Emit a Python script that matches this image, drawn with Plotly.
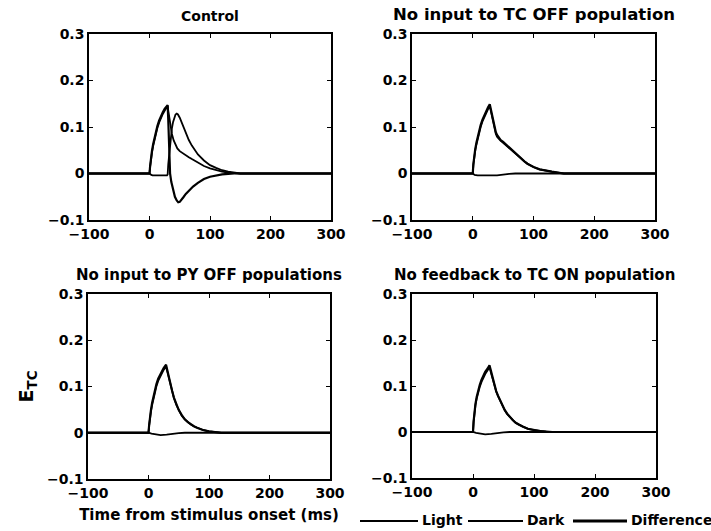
import plotly.graph_objects as go

# ---------------- data ----------------
panel_titles = ["Control", "No input to TC OFF population",
                "No input to PY OFF populations", "No feedback to TC ON population"]
series_names = ["Light", "Dark", "Difference"]
x_ticks = [-100, 0, 100, 200, 300]
y_ticks = [-0.1, 0, 0.1, 0.2, 0.3]
y_ticktext = ["−0.1", "0", "0.1", "0.2", "0.3"]

# Control
ctrl_light_t = [-100, 0, 1, 2, 4, 6, 8, 10, 13, 16, 19, 22, 25, 28, 30, 31, 33, 35, 37, 40, 43, 46, 50, 55, 60, 65, 70, 75, 80, 90, 100, 110, 120, 130, 140, 150, 300]
ctrl_light_y = [0, 0, 0.014, 0.026, 0.044, 0.059, 0.072, 0.084, 0.098, 0.11, 0.12, 0.128, 0.135, 0.141, 0.145, 0.135, 0.114, 0.097, 0.085, 0.071, 0.061, 0.054, 0.048, 0.043, 0.039, 0.035, 0.031, 0.027, 0.023, 0.016, 0.011, 0.007, 0.004, 0.002, 0.001, 0, 0]
ctrl_dark_t = [-100, 0, 3, 5, 29, 30, 31, 33, 35, 37, 39, 41, 43, 45, 47, 50, 53, 56, 60, 65, 70, 75, 80, 90, 100, 110, 120, 130, 140, 150, 300]
ctrl_dark_y = [0, 0, -0.003, -0.004, -0.004, -0.002, 0.02, 0.05, 0.077, 0.097, 0.111, 0.121, 0.127, 0.129, 0.127, 0.12, 0.11, 0.1, 0.087, 0.072, 0.06, 0.05, 0.041, 0.028, 0.018, 0.012, 0.007, 0.004, 0.002, 0, 0]
ctrl_diff_t = [-100, 0, 1, 2, 4, 6, 8, 10, 13, 16, 19, 22, 25, 28, 30, 31, 32, 34, 36, 38, 40, 42, 45, 47.5, 50, 53, 56, 60, 65, 72, 80, 90, 100, 110, 120, 130, 140, 300]
ctrl_diff_y = [0, 0, 0.016, 0.029, 0.048, 0.063, 0.076, 0.088, 0.102, 0.114, 0.124, 0.132, 0.139, 0.144, 0.147, 0.115, 0.08, 0.0, -0.018, -0.03, -0.041, -0.05, -0.058, -0.062, -0.061, -0.057, -0.051, -0.044, -0.037, -0.028, -0.02, -0.012, -0.007, -0.004, -0.002, -0.001, 0, 0]

# No input to TC OFF population
tcoff_light_t = [-100, 0, 1, 2, 4, 6, 8, 10, 13, 16, 19, 22, 25, 28, 30, 32, 34, 36, 38, 40, 43, 46, 50, 55, 60, 65, 70, 75, 80, 85, 90, 95, 100, 110, 120, 130, 140, 150, 300]
tcoff_light_y = [0, 0, 0.018, 0.03, 0.048, 0.062, 0.074, 0.085, 0.1, 0.112, 0.122, 0.131, 0.138, 0.145, 0.133, 0.118, 0.104, 0.093, 0.085, 0.079, 0.074, 0.07, 0.066, 0.06, 0.054, 0.048, 0.042, 0.037, 0.031, 0.026, 0.021, 0.017, 0.014, 0.009, 0.006, 0.004, 0.002, 0, 0]
tcoff_dark_t = [-100, 0, 3, 8, 40, 50, 60, 70, 300]
tcoff_dark_y = [0, 0, -0.003, -0.004, -0.004, -0.002, -0.001, 0, 0]
tcoff_diff_t = [-100, 0, 1, 2, 4, 6, 8, 10, 13, 16, 19, 22, 25, 28, 30, 32, 34, 36, 38, 40, 43, 46, 50, 55, 60, 65, 70, 75, 80, 85, 90, 95, 100, 110, 120, 130, 140, 150, 300]
tcoff_diff_y = [0, 0, 0.02, 0.033, 0.052, 0.066, 0.078, 0.089, 0.104, 0.116, 0.126, 0.135, 0.142, 0.149, 0.137, 0.122, 0.108, 0.097, 0.089, 0.083, 0.077, 0.072, 0.068, 0.062, 0.055, 0.048, 0.042, 0.037, 0.031, 0.026, 0.021, 0.017, 0.014, 0.009, 0.006, 0.004, 0.002, 0, 0]

# No input to PY OFF populations
pyoff_light_t = [-100, 0, 1, 2, 4, 6, 8, 10, 13, 16, 19, 22, 25, 29, 31, 33, 36, 39, 42, 46, 50, 55, 60, 65, 70, 75, 80, 90, 100, 110, 120, 300]
pyoff_light_y = [0, 0, 0.015, 0.027, 0.045, 0.06, 0.073, 0.085, 0.1, 0.112, 0.121, 0.129, 0.136, 0.143, 0.132, 0.12, 0.105, 0.09, 0.075, 0.06, 0.048, 0.037, 0.029, 0.023, 0.018, 0.014, 0.011, 0.006, 0.003, 0.001, 0, 0]
pyoff_dark_t = [-100, 0, 5, 12, 20, 30, 40, 50, 60, 300]
pyoff_dark_y = [0, 0, -0.002, -0.004, -0.005, -0.004, -0.002, -0.001, 0, 0]
pyoff_diff_t = [-100, 0, 1, 2, 4, 6, 8, 10, 13, 16, 19, 22, 25, 29, 31, 33, 36, 39, 42, 46, 50, 55, 60, 65, 70, 75, 80, 90, 100, 110, 120, 300]
pyoff_diff_y = [0, 0, 0.016, 0.029, 0.049, 0.065, 0.078, 0.09, 0.105, 0.117, 0.126, 0.134, 0.14, 0.147, 0.135, 0.122, 0.107, 0.091, 0.076, 0.061, 0.049, 0.038, 0.029, 0.023, 0.018, 0.014, 0.011, 0.006, 0.003, 0.001, 0, 0]

# No feedback to TC ON population
nofb_light_t = [-100, 0, 1, 2, 4, 6, 8, 11, 14, 17, 20, 24, 27, 29, 32, 35, 38, 41, 44, 48, 52, 56, 60, 65, 70, 75, 82, 90, 100, 110, 120, 130, 300]
nofb_light_y = [0, 0, 0.022, 0.038, 0.058, 0.072, 0.084, 0.098, 0.109, 0.118, 0.126, 0.134, 0.141, 0.131, 0.115, 0.1, 0.088, 0.078, 0.069, 0.058, 0.047, 0.039, 0.033, 0.026, 0.02, 0.016, 0.0115, 0.007, 0.004, 0.002, 0.001, 0, 0]
nofb_dark_t = [-100, 0, 5, 12, 20, 30, 40, 50, 60, 300]
nofb_dark_y = [0, 0, -0.002, -0.004, -0.005, -0.004, -0.002, -0.001, 0, 0]
nofb_diff_t = [-100, 0, 1, 2, 4, 6, 8, 11, 14, 17, 20, 24, 27, 29, 32, 35, 38, 41, 44, 48, 52, 56, 60, 65, 70, 75, 82, 90, 100, 110, 120, 130, 300]
nofb_diff_y = [0, 0, 0.023, 0.04, 0.061, 0.076, 0.088, 0.102, 0.114, 0.123, 0.131, 0.138, 0.145, 0.135, 0.118, 0.102, 0.089, 0.079, 0.07, 0.059, 0.048, 0.04, 0.033, 0.026, 0.02, 0.016, 0.0115, 0.007, 0.004, 0.002, 0.001, 0, 0]

panels = [
    [(ctrl_light_t, ctrl_light_y), (ctrl_dark_t, ctrl_dark_y), (ctrl_diff_t, ctrl_diff_y)],
    [(tcoff_light_t, tcoff_light_y), (tcoff_dark_t, tcoff_dark_y), (tcoff_diff_t, tcoff_diff_y)],
    [(pyoff_light_t, pyoff_light_y), (pyoff_dark_t, pyoff_dark_y), (pyoff_diff_t, pyoff_diff_y)],
    [(nofb_light_t, nofb_light_y), (nofb_dark_t, nofb_dark_y), (nofb_diff_t, nofb_diff_y)],
]

# ---------------- figure ----------------
W, H = 711, 531
ML, MR, MT, MB = 40, 40, 30, 30
PW, PH = W - ML - MR, H - MT - MB
FONT = "DejaVu Sans, Liberation Sans, Arial, sans-serif"


def fx(px):  # pixel x -> domain fraction
    return (px - ML) / PW


def fy(py):  # pixel y -> domain fraction
    return (H - MB - py) / PH


# pixel boxes of the four plot areas (left, right, top, bottom)
boxes = [(89, 331, 34, 220), (412, 655, 34, 220),
         (88, 330, 294, 479), (412, 656, 294, 478)]
title_sizes = [14, 16.5, 15, 15]
widths = [1.8, 1.8, 2.2]

fig = go.Figure()
for i, series in enumerate(panels):
    ax = "" if i == 0 else str(i + 1)
    for k, (tt, yy) in enumerate(series):
        fig.add_trace(go.Scatter(
            x=tt, y=yy, mode="lines", name=series_names[k], showlegend=False,
            line=dict(color="black", width=widths[k]),
            xaxis="x" + ax, yaxis="y" + ax))

layout = dict(
    width=W, height=H, margin=dict(l=ML, r=MR, t=MT, b=MB, autoexpand=False),
    paper_bgcolor="white", plot_bgcolor="white",
    font=dict(family=FONT, size=14, color="black", weight="bold"),
    showlegend=False,
    annotations=[], shapes=[],
)

for i, (l, r, t, b) in enumerate(boxes):
    ax = "" if i == 0 else str(i + 1)
    common = dict(showline=True, linecolor="black", linewidth=1.5, mirror="ticks",
                  ticks="inside", ticklen=4, tickcolor="black", tickwidth=1,
                  showgrid=False, zeroline=False, automargin=False,
                  tickfont=dict(family=FONT, size=14, weight="bold"))
    layout["xaxis" + ax] = dict(domain=[fx(l), fx(r)], range=[-100, 300], tickvals=x_ticks,
                                anchor="y" + ax, **common)
    layout["yaxis" + ax] = dict(domain=[fy(b), fy(t)], range=[-0.1, 0.3], tickvals=y_ticks,
                                ticktext=y_ticktext, anchor="x" + ax, **common)
    layout["annotations"].append(dict(
        text=panel_titles[i], xref="paper", yref="paper",
        x=fx((l + r) / 2), y=fy(t - 8), xanchor="center", yanchor="bottom",
        showarrow=False, font=dict(family=FONT, size=title_sizes[i], weight="bold")))

layout["xaxis3"]["title"] = dict(text="Time from stimulus onset (ms)", standoff=10,
                                 font=dict(family=FONT, size=15, weight="bold"))
layout["yaxis3"]["title"] = dict(text="E<sub>TC</sub>", standoff=8,
                                 font=dict(family=FONT, size=19, weight="bold"))

# legend key drawn along the bottom-right (line sample + label)
legend_lines = [(360, 418), (468, 523), (573, 627)]
legend_y = 520
for k, (x0, x1) in enumerate(legend_lines):
    layout["shapes"].append(dict(type="line", xref="paper", yref="paper",
                                 x0=fx(x0), x1=fx(x1), y0=fy(legend_y + 1), y1=fy(legend_y + 1),
                                 line=dict(color="black", width=widths[k] if k < 2 else 2.8)))
    layout["annotations"].append(dict(
        text=series_names[k], xref="paper", yref="paper", x=fx(x1 + 2), y=fy(legend_y),
        xanchor="left", yanchor="middle", showarrow=False,
        font=dict(family=FONT, size=14, weight="bold")))

fig.update_layout(**layout)
fig.write_html("out.html", config={"displayModeBar": False},
               post_script="document.body.style.margin='0';document.body.style.padding='0';")
